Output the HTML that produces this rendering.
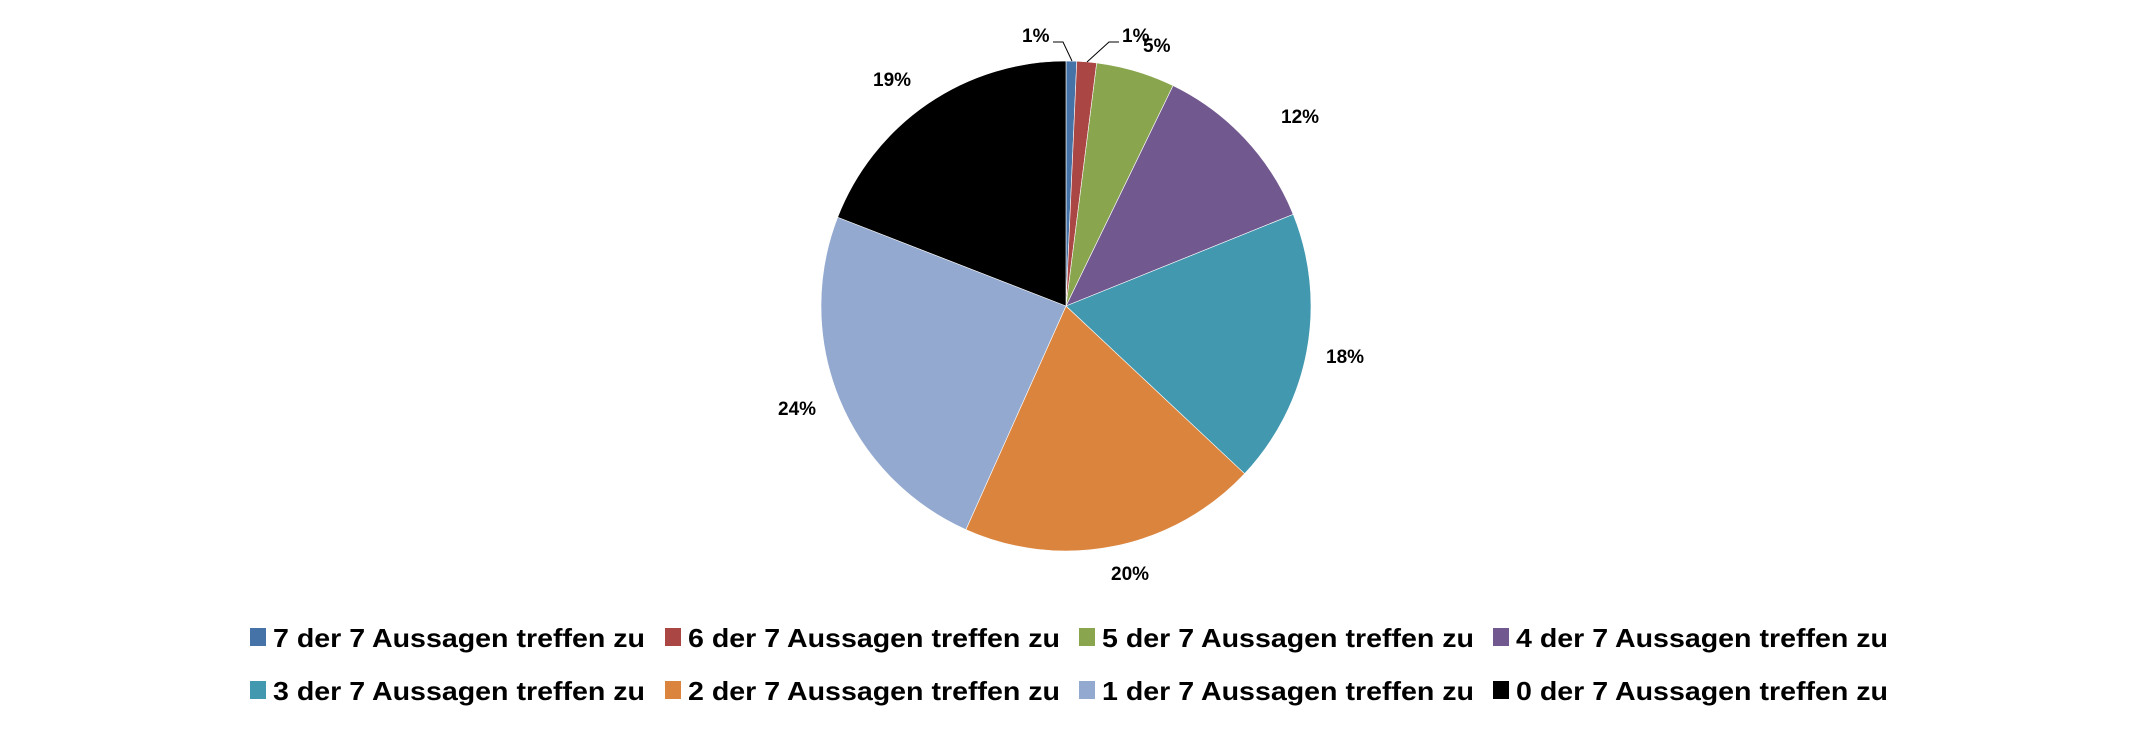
<!DOCTYPE html>
<html><head><meta charset="utf-8"><style>
html,body{margin:0;padding:0;background:#fff;}
svg text{font-family:"Liberation Sans",sans-serif;font-weight:bold;fill:#000;}
</style></head><body>
<svg width="2133" height="727" viewBox="0 0 2133 727" xmlns="http://www.w3.org/2000/svg">
<g stroke="#fff" stroke-width="0.6">
<path d="M1066,306 L1066,61 A245,245 0 0 1 1076.77,61.24 Z" fill="#4572A7"/>
<path d="M1066,306 L1076.77,61.24 A245,245 0 0 1 1096.71,62.93 Z" fill="#AA4643"/>
<path d="M1066,306 L1096.71,62.93 A245,245 0 0 1 1173.09,85.65 Z" fill="#89A54E"/>
<path d="M1066,306 L1173.09,85.65 A245,245 0 0 1 1293.23,214.39 Z" fill="#71588F"/>
<path d="M1066,306 L1293.23,214.39 A245,245 0 0 1 1244.60,473.71 Z" fill="#4198AF"/>
<path d="M1066,306 L1244.60,473.71 A245,245 0 0 1 965.88,529.61 Z" fill="#DB843D"/>
<path d="M1066,306 L965.88,529.61 A245,245 0 0 1 837.64,217.24 Z" fill="#93A9CF"/>
<path d="M1066,306 L837.64,217.24 A245,245 0 0 1 1066,61 Z" fill="#000000"/>
</g>
<g font-size="19">
<text x="1022" y="42">1%</text>
<text x="1122" y="42">1%</text>
<text x="1143" y="52">5%</text>
<text x="1281" y="123">12%</text>
<text x="1326" y="363">18%</text>
<text x="1111" y="580">20%</text>
<text x="778" y="415">24%</text>
<text x="873" y="86">19%</text>
</g>
<polyline points="1053,42 1063,42 1072,61" fill="none" stroke="#000" stroke-width="1"/>
<polyline points="1119,42 1109,42 1087,62" fill="none" stroke="#000" stroke-width="1"/>
<g font-size="26">
<rect x="250" y="628" width="16" height="18" fill="#4572A7"/><text x="273" y="647" textLength="372" lengthAdjust="spacingAndGlyphs">7 der 7 Aussagen treffen zu</text>
<rect x="665" y="628" width="16" height="18" fill="#AA4643"/><text x="688" y="647" textLength="372" lengthAdjust="spacingAndGlyphs">6 der 7 Aussagen treffen zu</text>
<rect x="1079" y="628" width="16" height="18" fill="#89A54E"/><text x="1102" y="647" textLength="372" lengthAdjust="spacingAndGlyphs">5 der 7 Aussagen treffen zu</text>
<rect x="1493" y="628" width="16" height="18" fill="#71588F"/><text x="1516" y="647" textLength="372" lengthAdjust="spacingAndGlyphs">4 der 7 Aussagen treffen zu</text>
<rect x="250" y="681" width="16" height="18" fill="#4198AF"/><text x="273" y="700" textLength="372" lengthAdjust="spacingAndGlyphs">3 der 7 Aussagen treffen zu</text>
<rect x="665" y="681" width="16" height="18" fill="#DB843D"/><text x="688" y="700" textLength="372" lengthAdjust="spacingAndGlyphs">2 der 7 Aussagen treffen zu</text>
<rect x="1079" y="681" width="16" height="18" fill="#93A9CF"/><text x="1102" y="700" textLength="372" lengthAdjust="spacingAndGlyphs">1 der 7 Aussagen treffen zu</text>
<rect x="1493" y="681" width="16" height="18" fill="#000000"/><text x="1516" y="700" textLength="372" lengthAdjust="spacingAndGlyphs">0 der 7 Aussagen treffen zu</text>
</g>
</svg>
</body></html>
